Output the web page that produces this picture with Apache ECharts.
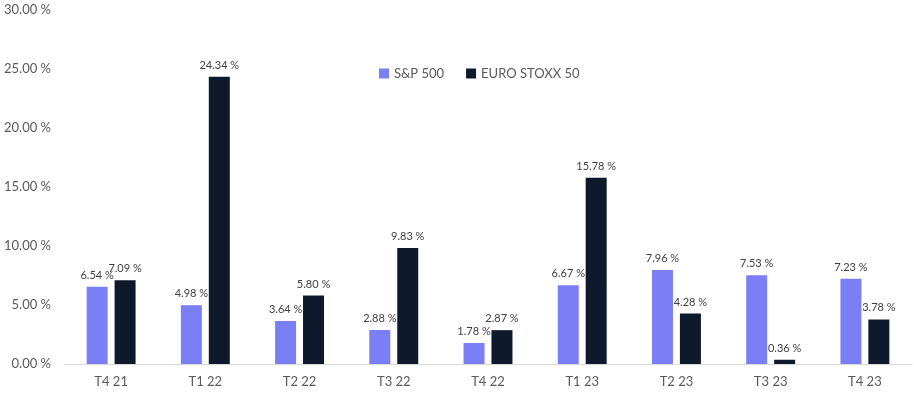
<!DOCTYPE html>
<html lang="en">
<head>
    <meta charset="UTF-8">
    <title>S&P 500 vs EURO STOXX 50</title>
    <script src="https://cdn.jsdelivr.net/npm/echarts@6/dist/echarts.min.js"></script>
    <style>
        html, body { margin: 0; padding: 0; background: #fff; }
        #chart { width: 914px; height: 397px; }
    </style>
</head>
<body>
<div id="chart"></div>
<script>
    // données
    var quarters = ['T4 21', 'T1 22', 'T2 22', 'T3 22', 'T4 22', 'T1 23', 'T2 23', 'T3 23', 'T4 23']
    var sp500 = [6.54, 4.98, 3.64, 2.88, 1.78, 6.67, 7.96, 7.53, 7.23]
    var stoxx50 = [7.09, 24.34, 5.80, 9.83, 2.87, 15.78, 4.28, 0.36, 3.78]
    var seriesNames = ['S&P 500', 'EURO STOXX 50']

    var fontName = 'Lato, "Open Sans", sans-serif'
    var labelStyle = {
        show: true,
        position: 'top',
        distance: 6,
        color: '#404040',
        fontSize: 11,
        fontFamily: fontName,
        formatter: function (p) { return p.value.toFixed(2) + ' %' }
    }

    var chart = echarts.init(document.getElementById('chart'))
    chart.setOption({
        animation: false,
        textStyle: { fontFamily: fontName },
        grid: { left: 64, right: 2, top: 10, bottom: 33, containLabel: false },
        legend: {
            data: seriesNames,
            left: 374,
            top: 62,
            itemWidth: 10,
            itemHeight: 10,
            itemGap: 22,
            icon: 'rect',
            textStyle: { color: '#595959', fontSize: 13, fontFamily: fontName }
        },
        xAxis: {
            type: 'category',
            data: quarters,
            axisLine: { lineStyle: { color: '#d9d9d9' } },
            axisTick: { show: false },
            axisLabel: { color: '#595959', fontSize: 13, margin: 11 }
        },
        yAxis: {
            type: 'value',
            min: 0,
            max: 30,
            interval: 5,
            splitLine: { show: false },
            axisLine: { show: false },
            axisTick: { show: false },
            axisLabel: {
                color: '#595959',
                fontSize: 13,
                margin: 13,
                formatter: function (v) { return v.toFixed(2) + ' %' }
            }
        },
        series: [{
            name: seriesNames[0],
            type: 'bar',
            data: sp500,
            barWidth: 21,
            barGap: '33%',
            itemStyle: { color: '#7b7ff6' },
            label: labelStyle
        }, {
            name: seriesNames[1],
            type: 'bar',
            data: stoxx50,
            barWidth: 21,
            itemStyle: { color: '#0e1a2b' },
            label: labelStyle
        }]
    })
</script>
</body>
</html>
